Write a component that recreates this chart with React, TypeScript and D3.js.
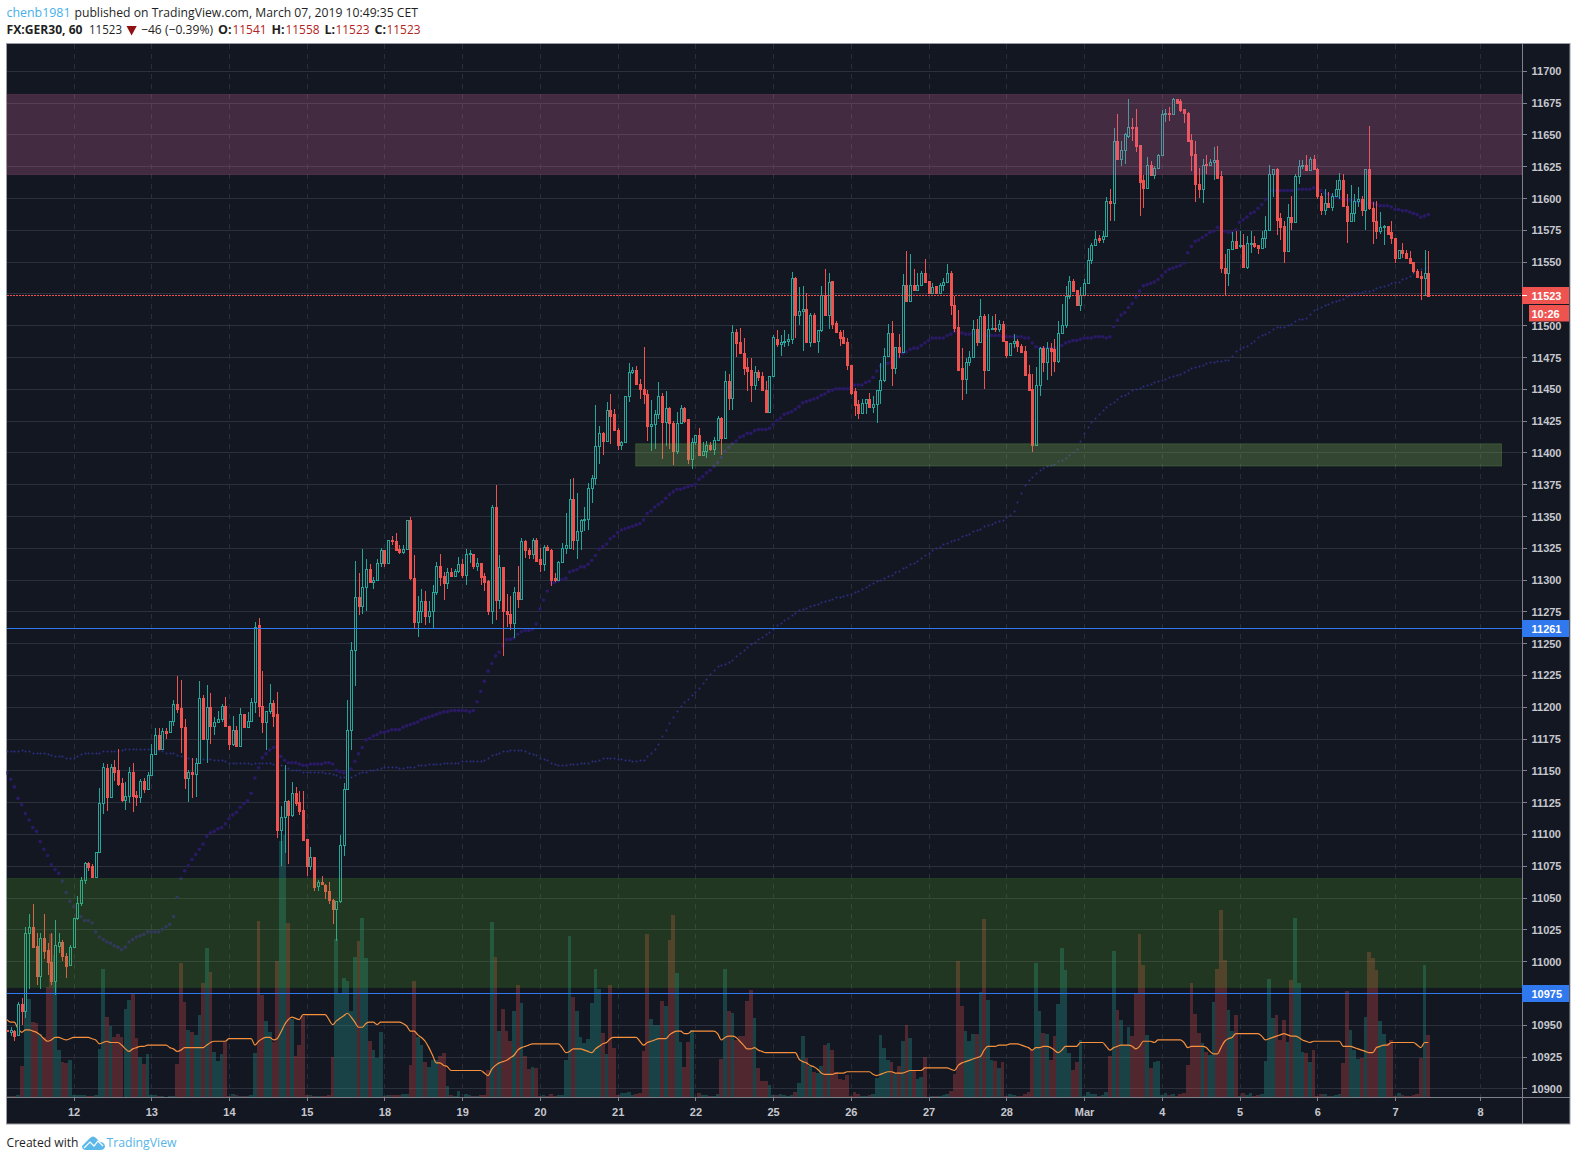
import * as d3 from "d3";

// hourly FX:GER30 sessions, each row is [open, high, low, close]
const feb11 = [
  [10946,10946,10944,10945],[10944,10948,10941,10946],[10945,10946,10937,10941],[10942,10968,10942,10966],
  [10966,10971,10950,10961],[10961,11027,10955,11022],[11022,11037,10978,11027],[11027,11045,11010,11011],
  [11012,11022,10981,10988],[10988,11022,10978,11018],[11018,11037,11002,11008],[11009,11014,10989,10999],
  [10999,11022,10981,10984],[10984,11032,10973,11013],[11012,11022,11006,11015],[11015,11017,11000,11004],
  [11004,11006,10987,10996],[10997,11013,10996,11011],
];
const feb12 = [
  [11011,11034,11011,11034],[11034,11051,11032,11046],[11046,11066,11043,11064],[11064,11078,11061,11077],
  [11077,11078,11071,11074],[11075,11076,11065,11066],[11066,11086,11066,11086],[11086,11136,11085,11124],
  [11124,11156,11116,11153],[11152,11155,11118,11129],[11129,11155,11129,11153],[11153,11158,11142,11149],
  [11150,11167,11138,11139],[11140,11144,11125,11127],[11127,11141,11119,11130],[11130,11153,11124,11149],
  [11149,11156,11117,11130],[11131,11134,11122,11129],[11129,11143,11124,11142],[11142,11144,11132,11135],
  [11135,11149,11135,11146],
];
const feb13 = [
  [11146,11171,11146,11163],[11163,11183,11163,11178],[11178,11183,11166,11167],[11167,11183,11167,11181],
  [11181,11183,11175,11179],[11180,11189,11180,11189],[11189,11205,11185,11202],[11202,11224,11195,11198],
  [11199,11221,11164,11184],[11184,11190,11135,11144],[11144,11150,11125,11149],[11149,11160,11128,11147],
  [11147,11160,11129,11156],[11156,11220,11155,11207],[11207,11209,11174,11175],[11175,11217,11156,11200],
  [11200,11211,11171,11185],[11185,11192,11178,11188],[11188,11197,11188,11190],[11190,11202,11188,11201],
  [11201,11208,11184,11185],
];
const feb14 = [
  [11185,11185,11166,11171],[11171,11193,11169,11182],[11182,11185,11168,11169],[11169,11199,11168,11194],
  [11194,11194,11184,11184],[11184,11196,11184,11189],[11189,11207,11189,11204],[11204,11267,11195,11263],
  [11264,11270,11192,11201],[11201,11228,11179,11188],[11188,11197,11166,11197],[11197,11218,11194,11203],
  [11203,11205,11184,11193],[11194,11212,11097,11103],[11103,11122,11075,11113],[11113,11154,11085,11126],
  [11126,11127,11076,11115],[11115,11141,11113,11132],[11132,11137,11122,11124],[11125,11134,11115,11118],
  [11119,11134,11095,11095],
];
const feb15 = [
  [11096,11096,11067,11075],[11075,11090,11072,11082],[11082,11082,11055,11058],[11059,11064,11055,11062],
  [11062,11067,11060,11061],[11060,11061,11049,11055],[11055,11062,11045,11048],[11048,11049,11029,11041],
  [11041,11047,11016,11047],[11047,11099,11046,11091],[11091,11140,11083,11135],[11135,11205,11135,11182],
  [11182,11251,11166,11245],[11245,11315,11216,11286],[11286,11305,11272,11279],[11279,11324,11273,11294],
  [11294,11316,11275,11308],[11308,11312,11298,11298],[11298,11302,11293,11300],[11300,11316,11300,11313],
  [11313,11325,11310,11323],
];
const feb18 = [
  [11323,11323,11310,11313],[11313,11331,11313,11331],[11331,11334,11327,11330],[11330,11337,11323,11323],
  [11324,11327,11320,11322],[11322,11327,11320,11324],[11324,11347,11324,11347],[11347,11349,11300,11301],
  [11301,11319,11261,11267],[11267,11287,11255,11275],[11275,11293,11266,11283],[11283,11291,11264,11271],
  [11271,11283,11266,11275],[11275,11296,11262,11290],[11290,11314,11288,11311],[11311,11320,11295,11302],
  [11303,11306,11284,11297],[11297,11309,11293,11306],[11306,11309,11302,11303],[11303,11308,11302,11307],
  [11307,11318,11305,11312],
];
const feb19 = [
  [11312,11316,11301,11304],[11304,11324,11296,11320],[11320,11323,11313,11321],[11320,11320,11308,11311],
  [11311,11317,11307,11313],[11313,11313,11296,11302],[11303,11305,11291,11298],[11299,11300,11272,11275],
  [11275,11359,11265,11357],[11357,11374,11268,11284],[11284,11319,11277,11310],[11310,11310,11240,11275],
  [11275,11289,11263,11273],[11273,11287,11260,11266],[11266,11294,11254,11290],[11290,11311,11278,11285],
  [11285,11333,11284,11330],[11330,11331,11317,11323],[11323,11325,11316,11320],[11320,11333,11316,11331],
  [11331,11333,11314,11315],
];
const feb20 = [
  [11316,11325,11306,11312],[11312,11327,11307,11326],[11326,11327,11323,11323],[11323,11324,11295,11300],
  [11301,11305,11298,11300],[11300,11315,11300,11314],[11314,11329,11313,11325],[11325,11352,11320,11327],
  [11325,11379,11324,11363],[11363,11380,11323,11331],[11331,11368,11316,11338],[11338,11348,11323,11347],
  [11347,11357,11338,11348],[11348,11376,11339,11372],[11372,11382,11360,11380],[11380,11437,11374,11405],
  [11405,11421,11391,11415],[11415,11416,11398,11409],[11409,11440,11408,11433],[11433,11446,11407,11429],
  [11430,11434,11418,11418],
];
const feb21 = [
  [11418,11419,11402,11406],[11406,11409,11402,11408],[11408,11444,11408,11444],[11444,11470,11440,11463],
  [11463,11467,11462,11465],[11465,11468,11453,11454],[11454,11458,11442,11450],[11450,11483,11438,11446],
  [11446,11449,11409,11421],[11421,11441,11401,11422],[11422,11433,11403,11430],[11430,11455,11426,11444],
  [11444,11447,11395,11424],[11424,11448,11405,11435],[11435,11436,11403,11423],[11423,11425,11390,11401],
  [11401,11432,11399,11423],[11423,11437,11423,11435],[11435,11436,11423,11425],[11426,11426,11391,11395],
  [11395,11411,11387,11408],
];
const feb22 = [
  [11408,11414,11406,11414],[11414,11419,11398,11398],[11398,11408,11397,11401],[11401,11409,11396,11406],
  [11406,11408,11401,11403],[11403,11412,11398,11410],[11410,11429,11409,11427],[11427,11428,11398,11411],
  [11411,11464,11411,11456],[11456,11462,11433,11443],[11443,11500,11433,11495],[11495,11497,11475,11486],
  [11487,11498,11478,11478],[11478,11490,11461,11466],[11467,11474,11448,11464],[11465,11474,11440,11453],
  [11453,11468,11449,11463],[11463,11465,11456,11459],[11460,11463,11449,11449],[11449,11456,11431,11432],
  [11432,11460,11431,11460],
];
const feb25 = [
  [11460,11492,11460,11491],[11489,11496,11483,11485],[11485,11492,11476,11487],[11487,11496,11483,11488],
  [11488,11493,11484,11489],[11489,11542,11485,11537],[11537,11538,11490,11508],[11508,11530,11500,11511],
  [11511,11531,11480,11513],[11513,11525,11486,11487],[11487,11510,11483,11508],[11508,11510,11486,11487],
  [11488,11496,11478,11496],[11496,11531,11495,11524],[11524,11544,11508,11508],[11508,11541,11497,11534],
  [11535,11535,11497,11501],[11502,11503,11494,11495],[11495,11496,11484,11490],[11491,11496,11486,11486],
  [11487,11490,11465,11469],
];
const feb26 = [
  [11469,11469,11445,11447],[11448,11451,11429,11437],[11438,11441,11426,11431],[11431,11442,11431,11439],
  [11439,11442,11430,11442],[11442,11447,11436,11436],[11436,11444,11431,11438],[11438,11449,11423,11449],
  [11449,11470,11438,11457],[11457,11482,11455,11476],[11476,11501,11475,11494],[11494,11503,11452,11466],
  [11466,11483,11462,11483],[11483,11493,11474,11479],[11479,11540,11479,11532],[11532,11558,11519,11519],
  [11519,11556,11519,11532],[11532,11544,11527,11528],[11528,11541,11528,11532],[11532,11543,11531,11541],
  [11541,11552,11533,11534],
];
const feb27 = [
  [11535,11535,11525,11525],[11525,11533,11525,11530],[11531,11531,11525,11525],[11525,11533,11525,11532],
  [11532,11537,11527,11534],[11534,11548,11533,11541],[11541,11543,11508,11516],[11516,11523,11495,11498],
  [11499,11512,11465,11465],[11466,11482,11441,11458],[11458,11474,11446,11471],[11471,11480,11468,11475],
  [11475,11504,11475,11497],[11497,11505,11484,11487],[11487,11521,11486,11507],[11507,11509,11450,11465],
  [11465,11509,11465,11497],[11497,11507,11496,11498],[11498,11509,11495,11497],[11497,11504,11495,11501],
  [11501,11503,11487,11488],
];
const feb28 = [
  [11488,11488,11474,11477],[11477,11486,11476,11486],[11486,11493,11482,11488],[11488,11489,11479,11484],
  [11484,11485,11479,11479],[11480,11484,11461,11461],[11462,11469,11448,11449],[11450,11462,11400,11406],
  [11406,11467,11405,11453],[11453,11483,11444,11482],[11482,11484,11463,11471],[11471,11487,11457,11482],
  [11482,11486,11460,11480],[11481,11489,11463,11472],[11472,11503,11470,11494],[11494,11517,11494,11500],
  [11500,11531,11498,11523],[11523,11539,11521,11535],[11535,11536,11527,11527],[11528,11528,11515,11516],
  [11516,11530,11511,11524],
];
const mar1 = [
  [11524,11536,11523,11533],[11533,11561,11533,11551],[11551,11565,11548,11563],[11563,11574,11562,11568],
  [11569,11571,11565,11567],[11568,11574,11565,11570],[11570,11601,11570,11598],[11598,11607,11582,11596],
  [11596,11655,11582,11645],[11645,11666,11631,11631],[11631,11645,11625,11638],[11638,11651,11627,11650],
  [11649,11678,11647,11656],[11656,11663,11645,11655],[11656,11670,11636,11641],[11642,11642,11586,11613],
  [11614,11618,11592,11608],[11608,11632,11607,11626],[11626,11629,11618,11618],[11618,11625,11615,11624],
  [11624,11635,11624,11634],
];
const mar4 = [
  [11634,11669,11633,11666],[11666,11670,11660,11667],[11667,11672,11661,11666],[11666,11679,11666,11678],
  [11678,11678,11674,11675],[11676,11678,11668,11669],[11670,11670,11659,11667],[11667,11668,11645,11645],
  [11646,11650,11621,11634],[11635,11645,11597,11611],[11611,11624,11600,11607],[11607,11631,11596,11626],
  [11627,11634,11619,11626],[11626,11631,11625,11628],[11628,11640,11614,11630],[11630,11641,11615,11616],
  [11617,11621,11541,11545],[11545,11556,11524,11541],[11541,11560,11531,11560],[11560,11573,11560,11566],
  [11566,11574,11560,11561],
];
const mar5 = [
  [11562,11574,11561,11563],[11563,11572,11546,11546],[11546,11570,11544,11565],[11564,11574,11557,11565],
  [11565,11570,11561,11562],[11563,11563,11556,11561],[11561,11574,11560,11569],[11569,11586,11561,11575],
  [11575,11626,11575,11619],[11619,11623,11601,11623],[11623,11624,11571,11583],[11584,11588,11567,11577],
  [11578,11582,11549,11558],[11558,11595,11558,11585],[11585,11602,11575,11581],[11581,11619,11581,11617],
  [11617,11630,11611,11625],[11625,11630,11623,11626],[11626,11634,11621,11622],[11622,11632,11621,11631],
  [11631,11634,11622,11623],
];
const mar6 = [
  [11623,11624,11599,11602],[11602,11604,11587,11591],[11591,11607,11587,11596],[11596,11605,11593,11593],
  [11593,11604,11590,11602],[11602,11614,11601,11607],[11607,11620,11599,11614],[11614,11619,11593,11594],
  [11594,11603,11565,11582],[11582,11610,11581,11588],[11588,11603,11581,11598],[11598,11609,11593,11599],
  [11599,11602,11586,11591],[11591,11623,11575,11623],[11623,11657,11591,11592],[11592,11597,11564,11582],
  [11582,11598,11568,11574],[11574,11589,11572,11577],[11577,11579,11563,11578],[11578,11578,11572,11572],
  [11573,11582,11564,11569],
];
const mar7 = [
  [11569,11569,11549,11553],[11553,11559,11552,11559],[11559,11565,11553,11557],[11557,11559,11552,11553],
  [11553,11558,11549,11549],[11550,11550,11541,11543],[11543,11544,11537,11538],[11539,11543,11520,11537],
  [11537,11559,11523,11541],[11541,11558,11523,11523],
];

const volumeBars = [
  2,2,3,6,93,291,294,224,221,190,180,330,489,426,141,105,101,111,
  6,5,7,5,4,4,7,145,384,240,213,180,190,180,265,292,310,178,120,100,130,
  6,6,3,3,1,2,3,100,402,285,200,195,185,247,341,447,375,135,108,130,165,
  3,9,7,4,3,4,7,132,528,305,228,196,165,408,767,787,522,235,123,155,243,
  6,5,4,3,3,4,5,120,474,311,357,349,259,420,468,536,416,168,141,118,195,
  4,5,5,5,5,9,9,96,348,180,156,105,90,111,111,123,132,33,6,3,18,
  1,9,6,2,3,6,6,81,524,420,198,264,198,168,258,336,282,123,84,90,87,
  3,6,3,9,2,6,6,111,483,300,258,180,162,174,282,384,324,192,129,336,147,
  6,12,12,15,6,9,11,138,489,234,216,216,288,273,471,546,372,165,90,165,201,
  1,12,6,6,2,3,9,114,384,258,252,170,183,183,288,321,237,87,48,48,36,
  6,6,9,6,3,6,15,42,183,117,94,75,72,93,156,162,141,75,54,51,66,
  3,15,9,2,2,6,9,57,186,147,111,105,69,93,168,216,177,78,54,60,120,
  1,3,2,2,6,9,18,69,408,273,198,168,189,189,315,534,291,111,108,87,105,
  2,9,6,2,3,9,15,141,402,258,191,189,111,183,279,447,381,132,81,105,171,
  3,15,9,9,3,6,15,123,438,261,231,156,210,183,311,489,396,186,87,105,107,
  6,12,6,9,3,9,12,96,341,249,191,162,135,126,285,384,561,411,261,198,246,
  2,12,6,11,2,6,9,108,354,237,246,171,231,165,351,537,342,135,132,105,141,
  3,9,9,3,3,6,9,102,318,201,141,114,118,240,436,416,381,228,189,163,171,
  3,12,6,3,3,6,9,117,396,186,
];

// big purple dots
const maShort = [
  11148,11143,11137,11128,11123,11116,11111,11105,11102,11094,
  11088,11083,11076,11072,11069,11063,11054,11047,11043,11037,
  11035,11032,11032,11030,11023,11019,11017,11015,11014,11012,
  11011,11009,11011,11015,11017,11019,11020,11021,11023,11023,
  11023,11023,11025,11027,11029,11035,11050,11065,11071,11075,
  11080,11084,11088,11092,11098,11101,11102,11104,11105,11108,
  11112,11115,11117,11121,11124,11126,11132,11144,11152,11160,
  11163,11166,11168,11169,11161,11158,11156,11156,11156,11155,
  11154,11154,11155,11155,11155,11155,11156,11156,11155,11150,
  11149,11148,11149,11151,11157,11163,11168,11174,11175,11177,
  11178,11180,11180,11181,11182,11182,11182,
  11184,11185,11186,11187,11188,11190,11191,11192,11193,11194,11195,11196,
  11196,11197,11197,11197,11197,11197,11196,11197,11204,11212,11220,11228,
  11234,11240,11243,11248,11253,11253,11254,11257,11259,11260,11260,11261,
  11265,11277,11284,11291,11297,11298,11299,11300,11301,11306,11307,11308,
  11310,11310,11312,11315,11319,11324,11326,11328,11332,11334,11337,11339,
  11340,11341,11342,11343,11344,
  11347,11352,11354,11357,11359,11361,11364,11367,11369,11371,
  11371,11372,11373,11374,11375,11379,11381,11384,11386,11389,
  11392,11396,11401,11404,11407,11409,11412,11413,11415,11415,
  11417,11418,11418,11418,11419,11422,11425,11427,11430,11431,
  11432,11434,11436,11439,11440,11441,
  11442,11443,11445,11446,11448,11449,11450,11450,11450,11450,
  11451,11453,11453,11453,11455,11456,11459,11464,11468,11469,
  11470,11471,11473,11475,11478,11479,11481,11482,11482,11484,
  11486,11488,11490,11490,11490,11490,11492,11493,11495,11494,
  11494,11493,11493,11494,11494,11493,11492,11492,11492,11492,
  11492,11491,11491,11491,11491,11491,11491,11490,11490,11486,
  11483,11482,11482,11482,11482,11482,11482,
  11484,11486,11487,11488,11488,11489,11490,11490,11490,11491,
  11491,11491,11490,11491,11499,11504,11508,11510,11514,11517,
  11522,11527,11531,11532,11533,11534,11536,11539,11542,11544,
  11545,11546,11547,11549,11557,11562,11566,11567,11569,11571,
  11573,11574,11577,11576,11574,11573,11573,11575,11581,11583,
  11585,11588,11589,11592,11595,11599,11603,11606,11606,11606,
  11606,11606,11606,11606,11607,11607,11607,11607,11608,11608,
  11606,11604,11603,11602,11601,11600,11599,11599,11598,11598,
  11597,11597,11596,11596,11596,11595,11594,11594,11594,11593,
  11591,11591,11590,11590,11589,11588,11587,11585,11586,11587,
];

// small blue dots
const maLong = [
  11165,11165,11165,11165,11166,11165,11165,11164,11164,11164,
  11164,11163,11162,11161,11161,11161,11160,11160,11160,11161,
  11163,11164,11164,11164,11164,11164,11165,11165,11165,11165,
  11165,11166,11167,11167,11167,11167,11167,11167,11167,11167,
  11166,11166,11165,11164,11164,11164,11162,11161,11160,11160,
  11159,11159,11159,11159,11159,11159,11158,11158,11158,11157,
  11156,11156,11156,11156,11156,11156,11155,11156,11156,11156,
  11156,11156,11155,11154,11154,11152,11152,11150,11150,11150,
  11149,11149,11149,11149,11149,11149,11148,11148,11147,11146,
  11145,11145,11145,11145,11146,11148,11149,11149,11150,11150,
  11151,11152,11153,11153,11153,11153,11152,
  11152,11153,11153,11153,11154,11154,11154,11155,11155,11155,11155,11156,
  11156,11156,11156,11156,11157,11157,11157,11157,11157,11157,11158,11160,
  11162,11163,11164,11165,11165,11166,11166,11166,11166,11165,11164,11163,
  11162,11160,11159,11158,11156,11155,11154,11154,11154,11155,11155,11155,
  11156,11156,11156,11157,11157,11158,11160,11160,11160,11160,11159,11159,
  11158,11158,11157,11157,11158,11158,11161,11164,11167,11171,11177,11182,
  11187,11192,11197,11201,11204,11206,11209,11212,11215,11219,11222,11226,
  11229,11232,11233,11234,11235,11237,11240,11242,11245,11247,11249,11251,
  11253,11255,11257,11259,11261,11264,11266,11268,11270,11272,11274,11276,
  11277,11278,11279,11280,11281,11282,11283,11284,11285,11286,11286,11287,
  11288,11289,11290,11291,11293,11294,11296,11297,11299,11300,11301,11303,
  11304,11306,11307,11309,11310,11312,11313,11315,11317,11319,11321,11323,
  11325,11326,11328,11329,11330,11331,11332,11334,11335,11336,11338,11339,
  11340,11342,11343,11344,11345,11346,11347,11349,11351,11354,11361,11368,
  11374,11378,11381,11384,11386,11388,11389,11390,11391,11393,11394,11396,
  11398,11400,11403,11409,11415,11420,11424,11427,11430,11433,11436,11438,
  11440,11442,11444,11445,11447,11449,11450,11451,11452,11453,11454,11455,
  11456,11457,11458,11459,11460,11461,11462,11463,11465,11466,11467,11468,
  11469,11470,11471,11471,11472,11472,
  11473,11473,11476,11480,11481,11483,11484,11486,11488,11491,11492,
  11493,11495,11497,11499,11499,11499,11500,11501,11503,11505,
  11505,11506,11509,11512,11513,11514,11516,11517,11518,11519,
  11520,11521,11523,11524,11525,11525,11526,11527,11527,11528,
  11529,11530,11531,11532,11533,11534,11534,11536,11537,11539,
  11541,11542,11544,11545,11546,
];

// orange study sitting on the volume pane, read in price units
const orangeStudy = [
  10954,10952,10952,10947,10944,10946,10946,10945,10944,10942,
  10939,10937,10938,10940,10940,10939,10938,10939,10940,10940,
  10940,10940,10940,10939,10938,10935,10936,10937,10936,10936,
  10936,10934,10931,10929,10931,10932,10933,10933,10934,10934,
  10934,10934,10934,10934,10932,10931,10929,10930,10932,10932,
  10932,10932,10932,10932,10934,10936,10937,10937,10937,10937,
  10939,10939,10939,10939,10939,10939,10939,10934,10937,10939,
  10940,10940,10938,10939,10944,10950,10954,10956,10955,10954,
  10958,10958,10958,10958,10958,10958,10958,10954,10950,10953,
  10955,10957,10959,10956,10952,10948,10948,10951,10952,10952,
  10950,10952,10952,10952,10952,10952,10952,
  10951,10949,10945,10945,10942,10940,10937,10932,10926,10920,
  10920,10918,10917,10914,10914,10914,10914,10914,10914,10914,
  10914,10914,10912,10910,10915,10918,10920,10921,10922,10924,
  10926,10930,10932,10933,10934,10935,10935,10935,10935,10935,
  10935,10935,10935,10932,10928,10929,10931,10931,10931,10930,
  10929,10928,10931,10933,10935,10936,10939,10940,10940,10940,
  10940,10940,10940,10940,10937,10934,10936,10937,10938,10939,
  10939,10939,10942,10944,10945,10945,10943,10943,10945,
  10945,10945,10945,10945,10945,10945,10943,10938,10940,10941,
  10941,10940,10937,10934,10931,10931,10932,10930,10929,10928,
  10928,10928,10928,10928,10928,10928,10928,10928,
  10923,10921,10920,10918,10917,10915,10912,10911,10911,10911,10912,10912,10912,
  10913,10913,10913,10913,10913,10913,10913,
  10911,10910,10911,10912,10913,10913,10912,10912,10912,10913,10914,10914,10914,10914,
  10916,10916,10916,10916,10916,10916,10916,
  10915,10914,10918,10920,10921,10922,10923,10924,10925,
  10930,10933,10933,10933,10934,10934,10934,10935,10935,10935,
  10934,10933,10932,10930,10932,10932,10933,10933,10932,10930,10928,10930,
  10933,10933,10933,10933,10936,10936,10936,10936,10936,10936,10936,
  10933,10930,10932,10933,10934,10934,10934,10933,10931,10933,10937,10937,10937,10936,10938,
  10938,10938,10938,10938,10938,10938,
  10936,10932,10933,10933,10933,10933,10932,10929,10927,10927,10932,10937,10939,10940,10943,
  10943,10943,10943,10943,10943,10943,
  10941,10938,10939,10940,10941,10942,10943,10942,10941,10941,10940,10938,10937,10936,10937,
  10937,10937,10937,10937,10937,10937,10937,
  10933,10933,10933,10932,10931,10930,10929,10928,10928,10932,10933,10934,10934,10936,10936,
  10936,10936,10936,10936,10936,10934,10932,10936,10936,
];

const dayLabels = ["12","13","14","15","18","19","20","21","22","25","26","27","28","Mar","4","5","6","7","8"];
const dayBars = [18,39,60,81,102,123,144,165,186,207,228,249,270,291,312,333,354,375,398];
const priceTicks = d3.range(10900, 11701, 25);

const pinkZone = [11618.5, 11681.5];
const topGreenZone = [11389.3, 11406.8];
const bottomGreenZone = [10979.4, 11065];
// the real levels carry decimals, the axis flags show them rounded
const blueLevels = [11261.6, 10975];
const blueLabels = ["11261", "10975"];
const lastPrice = 11523.6;
const lastPriceLabel = "11523";

const BG = "#131722";
const GRID = "#2a2e39";
const UP = "#26a69a";
const DOWN = "#ef5350";
const LEVEL = "#2f78ee";
const AXIS_LINE = "#7f828c";
const AXIS_TEXT = "#c6c8ce";
const AXIS_FONT = "'Liberation Sans', Arial, sans-serif";
const HEAD_FONT = "'Open Sans', 'Noto Sans', sans-serif";
const INK = "#1f1f1f";
const HEAD_RED = "#b22222";

const PANE = { left: 6.5, right: 1522, top: 43.5, bottom: 1097, outerRight: 1570, outerBottom: 1124 };

const candles = [
  ...feb11, ...feb12, ...feb13, ...feb14, ...feb15, ...feb18, ...feb19, ...feb20, ...feb21, ...feb22,
  ...feb25, ...feb26, ...feb27, ...feb28, ...mar1, ...mar4, ...mar5, ...mar6, ...mar7,
];

const x = d3.scaleLinear().domain([0, 384]).range([6.9, 1428.3]);
const y = d3.scaleLinear().domain([11675, 10900]).range([102.7, 1088.3]);
const volY = d3.scaleLinear().domain([0, 600]).range([PANE.bottom, PANE.bottom - 200]);

const snap = (v: number) => Math.round(v);

const orangePath = d3
  .line<number>()
  .x((_, i) => x(i))
  .y((d) => y(d))
  .curve(d3.curveMonotoneX)(orangeStudy) as string;

function Zone({ range, left, right, fill, border }: { range: number[]; left: number; right: number; fill: string; border: string }) {
  return (
    <rect
      x={left}
      y={y(range[1])}
      width={right - left}
      height={y(range[0]) - y(range[1])}
      fill={fill}
      stroke={border}
      strokeWidth={1}
    />
  );
}

function Flag({ left, top, height, fill, label }: { left: number; top: number; height: number; fill: string; label: string }) {
  return (
    <g>
      <rect x={left} y={top} width={1569 - left} height={height} fill={fill} />
      <text
        x={1531.5}
        y={top + height / 2 + 0.5}
        dominantBaseline="central"
        fontFamily={AXIS_FONT}
        fontSize={11}
        fontWeight={700}
        fill="#ffffff"
      >
        {label}
      </text>
    </g>
  );
}

export default function App() {
  return (
    <svg
      width={1577}
      height={1161}
      style={{ position: "absolute", left: 0, top: 0, display: "block", background: "#ffffff" }}
    >
      <defs>
        <clipPath id="pane">
          <rect x={PANE.left} y={PANE.top} width={PANE.right - PANE.left} height={PANE.bottom - PANE.top} />
        </clipPath>
      </defs>

      {/* header */}
      <g fontFamily={HEAD_FONT} fontSize={12.5}>
        <text x={6.5} y={17} fill="#45b0e8" textLength={64} lengthAdjust="spacingAndGlyphs">chenb1981</text>
        <text x={74.5} y={17} fill={INK} textLength={343.5} lengthAdjust="spacingAndGlyphs">
          published on TradingView.com, March 07, 2019 10:49:35 CET
        </text>
        <text x={6.5} y={34} fill={INK} fontWeight={700} textLength={76} lengthAdjust="spacingAndGlyphs">FX:GER30, 60</text>
        <text x={89} y={34} fill={INK} textLength={33} lengthAdjust="spacingAndGlyphs">11523</text>
        <path d="M126.5,26 L136.7,26 L131.6,35.5 Z" fill="#8f1111" />
        <text x={141} y={34} fill={INK} textLength={72} lengthAdjust="spacingAndGlyphs">−46 (−0.39%)</text>
        <text x={218} y={34} fill={INK} fontWeight={700}>O:</text>
        <text x={232.5} y={34} fill={HEAD_RED} textLength={34} lengthAdjust="spacingAndGlyphs">11541</text>
        <text x={271.5} y={34} fill={INK} fontWeight={700}>H:</text>
        <text x={285.5} y={34} fill={HEAD_RED} textLength={34} lengthAdjust="spacingAndGlyphs">11558</text>
        <text x={324.5} y={34} fill={INK} fontWeight={700}>L:</text>
        <text x={335.5} y={34} fill={HEAD_RED} textLength={34} lengthAdjust="spacingAndGlyphs">11523</text>
        <text x={374.5} y={34} fill={INK} fontWeight={700}>C:</text>
        <text x={386.5} y={34} fill={HEAD_RED} textLength={34} lengthAdjust="spacingAndGlyphs">11523</text>
      </g>

      {/* chart background */}
      <rect
        x={PANE.left}
        y={PANE.top}
        width={PANE.outerRight - PANE.left}
        height={PANE.outerBottom - PANE.top}
        fill={BG}
        stroke="#9a9da5"
        strokeWidth={1}
      />

      <g clipPath="url(#pane)">
        {/* grid */}
        <g shapeRendering="crispEdges">
          {priceTicks.map((p) => (
            <line key={p} x1={PANE.left} x2={PANE.right} y1={snap(y(p)) + 0.5} y2={snap(y(p)) + 0.5} stroke="#2c303c" />
          ))}
          {dayBars.map((b) => (
            <line
              key={b}
              x1={snap(x(b)) + 0.5}
              x2={snap(x(b)) + 0.5}
              y1={PANE.top}
              y2={PANE.bottom}
              stroke={GRID}
              strokeDasharray="5 5"
            />
          ))}
        </g>

        {/* volume */}
        <g shapeRendering="crispEdges">
          {volumeBars.map((v, i) => {
            const up = candles[i][3] >= candles[i][0];
            return (
              <rect
                key={i}
                x={x(i) - 1.85}
                y={volY(v)}
                width={3.7}
                height={volY(0) - volY(v)}
                fill={up ? "#26a69a" : "#ef5350"}
                fillOpacity={up ? 0.3 : 0.28}
              />
            );
          })}
        </g>

        {/* moving averages as dots */}
        {maLong.map((v, i) => (
          <circle key={i} cx={snap(x(i)) + 0.5} cy={snap(y(v)) + 0.5} r={1} fill="#2d2f85" />
        ))}
        {maShort.map((v, i) => (
          <circle key={i} cx={x(i)} cy={y(v)} r={1.8} fill="#2a1a66" />
        ))}

        <path d={orangePath} fill="none" stroke="#f7913d" strokeWidth={1.2} />

        {/* candles */}
        <g shapeRendering="crispEdges">
          {candles.map(([o, h, l, c], i) => {
            const cx = snap(x(i));
            const up = c >= o;
            const color = up ? UP : DOWN;
            const top = snap(y(Math.max(o, c)));
            const bot = Math.max(snap(y(Math.min(o, c))), top + 1);
            return (
              <g key={i}>
                <line x1={cx + 0.5} x2={cx + 0.5} y1={snap(y(h))} y2={snap(y(l))} stroke={color} />
                {up ? (
                  <rect x={cx - 0.5} y={top + 0.5} width={2} height={bot - top} fill={BG} stroke={color} />
                ) : (
                  <rect x={cx - 1} y={top} width={3} height={bot - top + 1} fill={color} />
                )}
              </g>
            );
          })}
        </g>

        {/* drawn zones sit on top of price */}
        <Zone range={pinkZone} left={PANE.left} right={PANE.right} fill="rgba(211,103,162,0.25)" border="rgba(211,103,162,0.2)" />
        <Zone range={bottomGreenZone} left={PANE.left} right={PANE.right} fill="rgba(89,183,34,0.2)" border="rgba(89,183,34,0.15)" />
        <Zone range={topGreenZone} left={635.7} right={1501.5} fill="rgba(122,180,87,0.3)" border="rgba(122,180,87,0.25)" />

        {/* horizontal levels */}
        <g shapeRendering="crispEdges">
          {blueLevels.map((p) => (
            <line key={p} x1={PANE.left} x2={PANE.right} y1={snap(y(p)) + 0.5} y2={snap(y(p)) + 0.5} stroke={LEVEL} />
          ))}
          <line
            x1={PANE.left}
            x2={PANE.right}
            y1={snap(y(lastPrice)) + 0.5}
            y2={snap(y(lastPrice)) + 0.5}
            stroke={DOWN}
            strokeDasharray="2 1"
          />
        </g>
      </g>

      {/* axis lines */}
      <g stroke={AXIS_LINE} shapeRendering="crispEdges">
        <line x1={PANE.right + 0.5} x2={PANE.right + 0.5} y1={PANE.top} y2={PANE.outerBottom} />
        <line x1={PANE.left} x2={PANE.outerRight} y1={PANE.bottom + 0.5} y2={PANE.bottom + 0.5} />
      </g>

      {/* price axis */}
      <g fontFamily={AXIS_FONT} fontSize={11} fontWeight={700} fill={AXIS_TEXT}>
        {priceTicks.map((p) => (
          <g key={p}>
            <line x1={PANE.right} x2={PANE.right + 5} y1={snap(y(p)) + 0.5} y2={snap(y(p)) + 0.5} stroke={AXIS_LINE} shapeRendering="crispEdges" />
            <text x={1531.5} y={y(p) + 0.5} dominantBaseline="central">{p}</text>
          </g>
        ))}
      </g>

      {/* time axis */}
      <g fontFamily={AXIS_FONT} fontSize={11} fontWeight={700} fill={AXIS_TEXT} textAnchor="middle">
        {dayBars.map((b, i) => (
          <g key={b}>
            <line
              x1={snap(x(b)) + 0.5}
              x2={snap(x(b)) + 0.5}
              y1={PANE.bottom}
              y2={PANE.bottom + 4}
              stroke={AXIS_LINE}
              shapeRendering="crispEdges"
            />
            <text x={x(b) + 0.5} y={1112} dominantBaseline="central">{dayLabels[i]}</text>
          </g>
        ))}
      </g>

      {/* price flags */}
      {blueLevels.map((p, i) => (
        <Flag key={p} left={PANE.right} top={snap(y(p)) - 8} height={17} fill={LEVEL} label={blueLabels[i]} />
      ))}
      <Flag left={PANE.right} top={287} height={17} fill={DOWN} label={lastPriceLabel} />
      <line x1={PANE.right} x2={PANE.right + 5} y1={295.5} y2={295.5} stroke="#ffffff" shapeRendering="crispEdges" />
      <Flag left={1529} top={305} height={16.5} fill={DOWN} label="10:26" />

      {/* footer */}
      <g fontFamily={HEAD_FONT} fontSize={13}>
        <text x={6.5} y={1147} fill={INK} textLength={72} lengthAdjust="spacingAndGlyphs">Created with</text>
        <path
          d="M82,1146 L90,1138 Q93,1135 96,1138 L100,1142 Q104,1142 105,1146 Q105,1150 100,1150 L86,1150 Q82,1150 82,1146 Z"
          fill="#5cb8ea"
        />
        <path d="M84,1148 L90,1142 L94,1146 L98,1141 L103,1146" fill="none" stroke="#ffffff" strokeWidth={1.2} />
        <text x={106.5} y={1147} fill="#55b4e8" textLength={70} lengthAdjust="spacingAndGlyphs">TradingView</text>
      </g>
    </svg>
  );
}
